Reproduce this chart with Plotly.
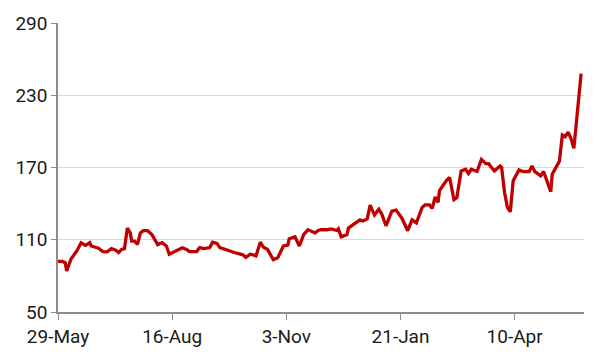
import plotly.graph_objects as go

dates = [
    "2022-05-29", "2022-06-01", "2022-06-03", "2022-06-04", "2022-06-07", "2022-06-11",
    "2022-06-14", "2022-06-17", "2022-06-20", "2022-06-21", "2022-06-26", "2022-06-29",
    "2022-07-02", "2022-07-05", "2022-07-08", "2022-07-10", "2022-07-12", "2022-07-14",
    "2022-07-16", "2022-07-18", "2022-07-19", "2022-07-21", "2022-07-23", "2022-07-25",
    "2022-07-27", "2022-07-30", "2022-08-02", "2022-08-04", "2022-08-06", "2022-08-09",
    "2022-08-12", "2022-08-14", "2022-08-18", "2022-08-21", "2022-08-23", "2022-08-26",
    "2022-08-28", "2022-09-02", "2022-09-04", "2022-09-07", "2022-09-11", "2022-09-13",
    "2022-09-16", "2022-09-18", "2022-09-21", "2022-09-25", "2022-09-28", "2022-10-02",
    "2022-10-04", "2022-10-06", "2022-10-09", "2022-10-11", "2022-10-13", "2022-10-16",
    "2022-10-18", "2022-10-21", "2022-10-25", "2022-10-28", "2022-11-01", "2022-11-04",
    "2022-11-05", "2022-11-09", "2022-11-10", "2022-11-12", "2022-11-15", "2022-11-18",
    "2022-11-23", "2022-11-25", "2022-11-27", "2022-12-01", "2022-12-04", "2022-12-08",
    "2022-12-09", "2022-12-11", "2022-12-15", "2022-12-16", "2022-12-20", "2022-12-24",
    "2022-12-26", "2022-12-29", "2022-12-31", "2023-01-03", "2023-01-06", "2023-01-08",
    "2023-01-11", "2023-01-15", "2023-01-18", "2023-01-22", "2023-01-26", "2023-01-29",
    "2023-02-01", "2023-02-05", "2023-02-07", "2023-02-10", "2023-02-12", "2023-02-14",
    "2023-02-16", "2023-02-17", "2023-02-22", "2023-02-24", "2023-02-27", "2023-03-01",
    "2023-03-04", "2023-03-07", "2023-03-09", "2023-03-11", "2023-03-15", "2023-03-18",
    "2023-03-21", "2023-03-23", "2023-03-25", "2023-03-27", "2023-03-31", "2023-04-01",
    "2023-04-03", "2023-04-05", "2023-04-07", "2023-04-09", "2023-04-13", "2023-04-16",
    "2023-04-20", "2023-04-22", "2023-04-24", "2023-04-28", "2023-04-30", "2023-05-03",
    "2023-05-05", "2023-05-06", "2023-05-08", "2023-05-11", "2023-05-13", "2023-05-15",
    "2023-05-17", "2023-05-19", "2023-05-21", "2023-05-23", "2023-05-25", "2023-05-26",
]

values = [
    92, 92, 91, 84, 94, 100.7,
    107.5, 105.3, 107.5, 104.8, 102.9, 100.2,
    100, 102.6, 101.3, 99.4, 102, 102.6,
    119.7, 115.7, 108.8, 108.8, 106.1, 115.7,
    117.5, 117.5, 114.3, 110.2, 106, 107.5,
    104.8, 98, 100.7, 102, 103.3, 102,
    100.2, 100.2, 103.5, 102.7, 103.5, 108,
    107, 103.5, 102, 100.7, 99.4, 98.6,
    97.5, 95.3, 98, 97.5, 96.6, 108,
    104, 102, 93.4, 95, 104.8, 105.6,
    110.8, 112.4, 110, 104.8, 114.3, 118.3,
    115.7, 117.7, 118.3, 118.3, 119, 117.7,
    119, 112.4, 114.3, 119.7, 123.2, 126.5,
    125.6, 127.3, 138.7, 130.5, 135.4, 131.4,
    121.6, 133.8, 134.6, 127.9, 117.5, 126.5,
    124, 136.8, 139, 139, 136, 145.5,
    141, 150.9, 159.6, 161.7, 143.3, 145,
    167.2, 168.5, 165, 168.5, 166.7, 176.7,
    173.2, 173.2, 170, 167.2, 171.2, 170,
    149.5, 136.8, 133.2, 159, 168, 166.5,
    166.5, 171.2, 166.5, 163.1, 166.7, 156.3,
    150, 164.5, 168.5, 175.3, 197, 195.6,
    199.4, 194, 186, 210, 240, 248,
]

x_tick_dates = ["2022-05-29", "2022-08-16", "2022-11-03", "2023-01-21", "2023-04-10"]
x_tick_labels = ["29-May", "16-Aug", "3-Nov", "21-Jan", "10-Apr"]
y_ticks = [50, 110, 170, 230, 290]

fig = go.Figure(
    go.Scatter(
        x=dates,
        y=values,
        mode="lines",
        line=dict(color="#C00000", width=3.3),
        hoverinfo="x+y",
    )
)

fig.update_layout(
    width=600,
    height=360,
    margin=dict(l=58, r=16, t=19, b=46),
    paper_bgcolor="white",
    plot_bgcolor="white",
    showlegend=False,
    font=dict(family="Roboto", size=19, color="#1a1a1a"),
)

fig.update_xaxes(
    type="date",
    range=["2022-05-29", "2023-05-28"],
    tickvals=x_tick_dates,
    ticktext=x_tick_labels,
    showgrid=False,
    showline=True,
    linecolor="#8c8c8c",
    linewidth=1.5,
    ticks="outside",
    ticklen=6,
    tickcolor="#8c8c8c",
    zeroline=False,
)

fig.update_yaxes(
    range=[50, 290],
    tickvals=y_ticks,
    showgrid=True,
    gridcolor="#d9d9d9",
    gridwidth=1,
    showline=True,
    linecolor="#8c8c8c",
    linewidth=1.5,
    ticks="outside",
    ticklen=5,
    tickcolor="#8c8c8c",
    zeroline=False,
)

fig.write_html("out.html")
